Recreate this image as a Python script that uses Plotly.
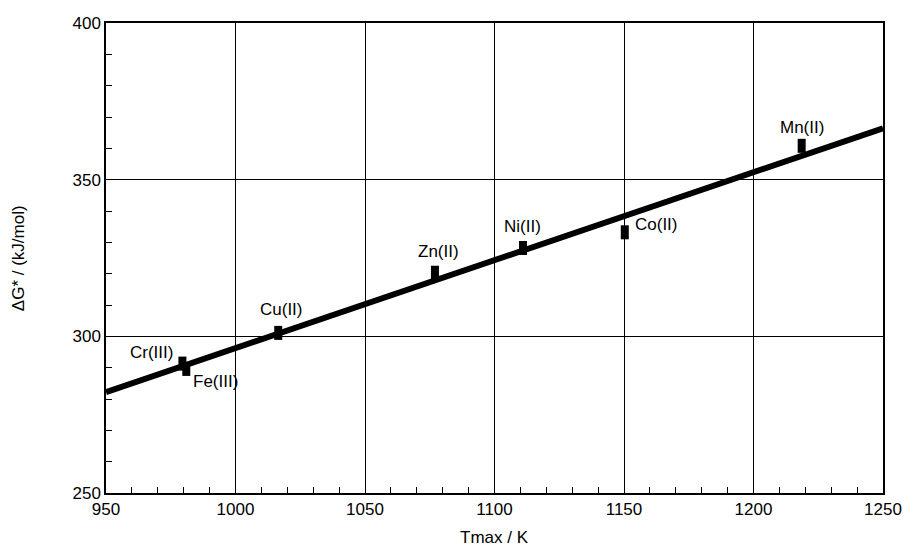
import plotly.graph_objects as go

# Data
metals = ["Cr(III)", "Fe(III)", "Cu(II)", "Zn(II)", "Ni(II)", "Co(II)", "Mn(II)"]
tmax = [979.5, 981, 1016.5, 1077, 1111, 1150.3, 1218.6]
dG = [291.3, 289.6, 301.1, 320.3, 328.2, 333.2, 360.8]

fit_x = [950, 1250]
fit_y = [282.2, 366.4]

# label offsets in pixels (x shift, y shift)
label_dx = [-31, 29, 3, 4, 0, 32, 0]
label_dy = [11, -13, 23, 21, 21.5, 8, 18]

FONT = "Liberation Sans, Arial, sans-serif"

fig = go.Figure()
fig.add_trace(go.Scatter(
    x=tmax, y=dG, mode="markers",
    marker=dict(symbol="line-ns", size=10, line=dict(color="black", width=8), color="black"),
    showlegend=False, hoverinfo="skip"))
fig.add_trace(go.Scatter(
    x=fit_x, y=fit_y, mode="lines",
    line=dict(color="black", width=6),
    showlegend=False, hoverinfo="skip"))

for name, x, y, dx, dy in zip(metals, tmax, dG, label_dx, label_dy):
    fig.add_annotation(x=x, y=y, text=name, showarrow=False,
                       xshift=dx, yshift=dy, xanchor="center", yanchor="middle",
                       font=dict(family=FONT, size=17, color="black"))

fig.add_annotation(xref="paper", yref="paper", x=0.5, y=-0.095, text="Tmax / K",
                   showarrow=False, xanchor="center", yanchor="middle",
                   font=dict(family=FONT, size=17, color="black"))
fig.add_annotation(xref="paper", yref="paper", x=-0.113, y=0.5, text="ΔG* / (kJ/mol)",
                   showarrow=False, textangle=-90, xanchor="center", yanchor="middle",
                   font=dict(family=FONT, size=17, color="black"))

axis_common = dict(
    showgrid=True, gridcolor="black", gridwidth=1,
    showline=True, linecolor="black", linewidth=1.5, mirror=True,
    ticks="", zeroline=False,
    tickfont=dict(family=FONT, size=17, color="black"),
)
fig.update_xaxes(range=[950, 1250], tick0=950, dtick=50,
                 minor=dict(ticks="inside", dtick=10, tick0=950, ticklen=6,
                            tickcolor="black", tickwidth=1, showgrid=False),
                 **axis_common)
fig.update_yaxes(range=[250, 400], tick0=250, dtick=50,
                 minor=dict(ticks="inside", dtick=10, tick0=250, ticklen=6,
                            tickcolor="black", tickwidth=1, showgrid=False),
                 **axis_common)

fig.update_layout(
    width=914, height=552,
    margin=dict(l=106, r=24, t=23, b=59),
    plot_bgcolor="white", paper_bgcolor="white",
    font=dict(family=FONT, size=17, color="black"),
)

fig.write_html(
    "out.html",
    config={"displayModeBar": False},
    post_script="document.body.style.margin='0';document.body.style.overflow='hidden';",
)
